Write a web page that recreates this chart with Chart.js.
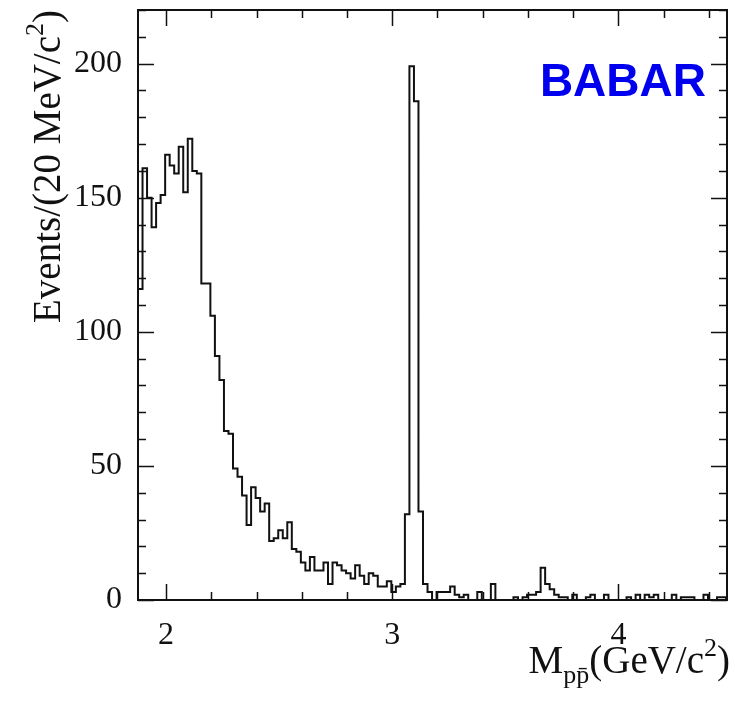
<!DOCTYPE html>
<html>
<head>
<meta charset="utf-8">
<title>BABAR p pbar invariant mass</title>
<script src="https://cdn.jsdelivr.net/npm/chart.js@4.4.1/dist/chart.umd.min.js"></script>
<style>
  html, body { margin: 0; padding: 0; background: #fff; }
  #wrap { width: 735px; height: 707px; }
</style>
</head>
<body>
<div id="wrap"><canvas id="massChart" width="735" height="707"></canvas></div>
<script>
// Histogram: M(p pbar), 20 MeV bins starting at threshold
const binStart = 1.876;
const binWidth = 0.02;
const counts = [
  116, 161, 150, 139, 148, 151, 166, 162, 159, 169,
  152, 172, 160, 159, 118, 118, 106, 91, 82, 63,
  62, 49, 46, 39, 28, 42, 38, 33, 36, 22,
  23, 26, 23, 29, 19, 18, 14, 11, 16, 11,
  11, 14, 6, 14, 13, 11, 10, 8, 13, 9,
  6, 10, 9, 5, 5, 7, 3, 5, 6, 32,
  199, 186, 33, 6, 3, 0, 3, 3, 3, 5,
  2, 1, 2, 0, 0, 3, 0, 0, 6, 0,
  0, 0, 0, 1, 0, 1, 2, 2, 3, 12,
  6, 4, 2, 1, 1, 0, 2, 0, 0, 1,
  2, 0, 0, 2, 0, 0, 0, 0, 1, 0,
  2, 0, 2, 1, 2, 0, 0, 0, 2, 0,
  1, 1, 1, 0, 0, 2, 0, 0, 1, 1,
  0
];

const xRange = [1.876, 4.48];
const yRange = [0, 220];
const xTickLabels = [2, 3, 4];
const yTickLabels = [0, 50, 100, 150, 200];
const xMinorStep = 0.2;
const yMinorStep = 10;

// step outline: each point is the left edge of a bin
const points = counts.map((c, i) => ({ x: binStart + i * binWidth, y: c }));
points.push({ x: binStart + counts.length * binWidth, y: counts[counts.length - 1] });

const serif = '"Liberation Serif", "Times New Roman", serif';

// draws the frame, inward ticks on all four sides, axis titles and the BABAR label
const decorations = {
  id: 'decorations',
  afterDraw(chart) {
    const ctx = chart.ctx;
    const a = chart.chartArea;
    const xs = chart.scales.x;
    const ys = chart.scales.y;
    ctx.save();
    ctx.strokeStyle = '#111';
    ctx.lineWidth = 2;
    ctx.strokeRect(a.left, a.top, a.right - a.left, a.bottom - a.top);

    ctx.lineWidth = 1.5;
    ctx.beginPath();
    for (let v = 2.0; v <= xRange[1] + 1e-9; v += xMinorStep) {
      const px = Math.round(xs.getPixelForValue(v)) + 0.5;
      const major = Math.abs(v - Math.round(v)) < 1e-6;
      const len = major ? 16 : 8;
      ctx.moveTo(px, a.bottom); ctx.lineTo(px, a.bottom - len);
      ctx.moveTo(px, a.top); ctx.lineTo(px, a.top + len);
    }
    for (let v = 0; v <= yRange[1] + 1e-9; v += yMinorStep) {
      const py = Math.round(ys.getPixelForValue(v)) + 0.5;
      const major = v % 50 === 0;
      const len = major ? 16 : 8;
      ctx.moveTo(a.left, py); ctx.lineTo(a.left + len, py);
      ctx.moveTo(a.right, py); ctx.lineTo(a.right - len, py);
    }
    ctx.stroke();

    ctx.fillStyle = '#111';
    ctx.textBaseline = 'alphabetic';
    const big = '39px ' + serif;
    const small = '26px ' + serif;

    // x title: M_{p pbar}(GeV/c^2), right aligned
    const xParts = [
      { t: 'M', f: big, dy: 0 },
      { t: 'pp\u0304', f: small, dy: 10 },
      { t: '(GeV/c', f: big, dy: 0 },
      { t: '2', f: small, dy: -17 },
      { t: ')', f: big, dy: 0 }
    ];
    let total = 0;
    xParts.forEach(p => { ctx.font = p.f; p.w = ctx.measureText(p.t).width; total += p.w; });
    let cx = 730 - total;
    xParts.forEach(p => { ctx.font = p.f; ctx.fillText(p.t, cx, 673 + p.dy); cx += p.w; });

    // y title: Events/(20 MeV/c^2), rotated, aligned to the top
    const yParts = [
      { t: 'Events/(20 MeV/c', f: big, dy: 0 },
      { t: '2', f: small, dy: -17 },
      { t: ')', f: big, dy: 0 }
    ];
    total = 0;
    yParts.forEach(p => { ctx.font = p.f; p.w = ctx.measureText(p.t).width; total += p.w; });
    ctx.save();
    ctx.translate(60, 10);
    ctx.rotate(-Math.PI / 2);
    cx = -total;
    yParts.forEach(p => { ctx.font = p.f; ctx.fillText(p.t, cx, p.dy); cx += p.w; });
    ctx.restore();

    // experiment label
    ctx.font = 'bold 46px "Liberation Sans", Arial, sans-serif';
    ctx.fillStyle = '#0000ee';
    ctx.textAlign = 'right';
    ctx.fillText('BABAR', 706, 96);
    ctx.restore();
  }
};

new Chart(document.getElementById('massChart').getContext('2d'), {
  type: 'line',
  data: {
    datasets: [{
      label: 'Events',
      data: points,
      stepped: 'before',
      borderColor: '#111',
      borderWidth: 2,
      borderJoinStyle: 'miter',
      pointRadius: 0,
      fill: false,
      tension: 0
    }]
  },
  options: {
    responsive: false,
    animation: false,
    layout: { padding: { top: 10, right: 8, left: 0, bottom: 0 } },
    plugins: {
      legend: { display: false },
      tooltip: { enabled: false }
    },
    scales: {
      x: {
        type: 'linear',
        min: xRange[0],
        max: xRange[1],
        grid: { display: false, drawTicks: false },
        border: { display: false },
        afterBuildTicks: s => { s.ticks = xTickLabels.map(v => ({ value: v })); },
        afterFit: s => { s.height = 107; s.paddingLeft = 0; s.paddingRight = 0; },
        ticks: {
          padding: 16,
          color: '#111',
          font: { family: serif, size: 32 },
          callback: v => String(v)
        }
      },
      y: {
        type: 'linear',
        min: yRange[0],
        max: yRange[1],
        grid: { display: false, drawTicks: false },
        border: { display: false },
        afterBuildTicks: s => { s.ticks = yTickLabels.map(v => ({ value: v })); },
        afterFit: s => { s.width = 138; s.paddingTop = 0; s.paddingBottom = 0; },
        ticks: {
          padding: 16,
          color: '#111',
          font: { family: serif, size: 32 },
          callback: v => String(v)
        }
      }
    }
  },
  plugins: [decorations]
});
</script>
</body>
</html>
